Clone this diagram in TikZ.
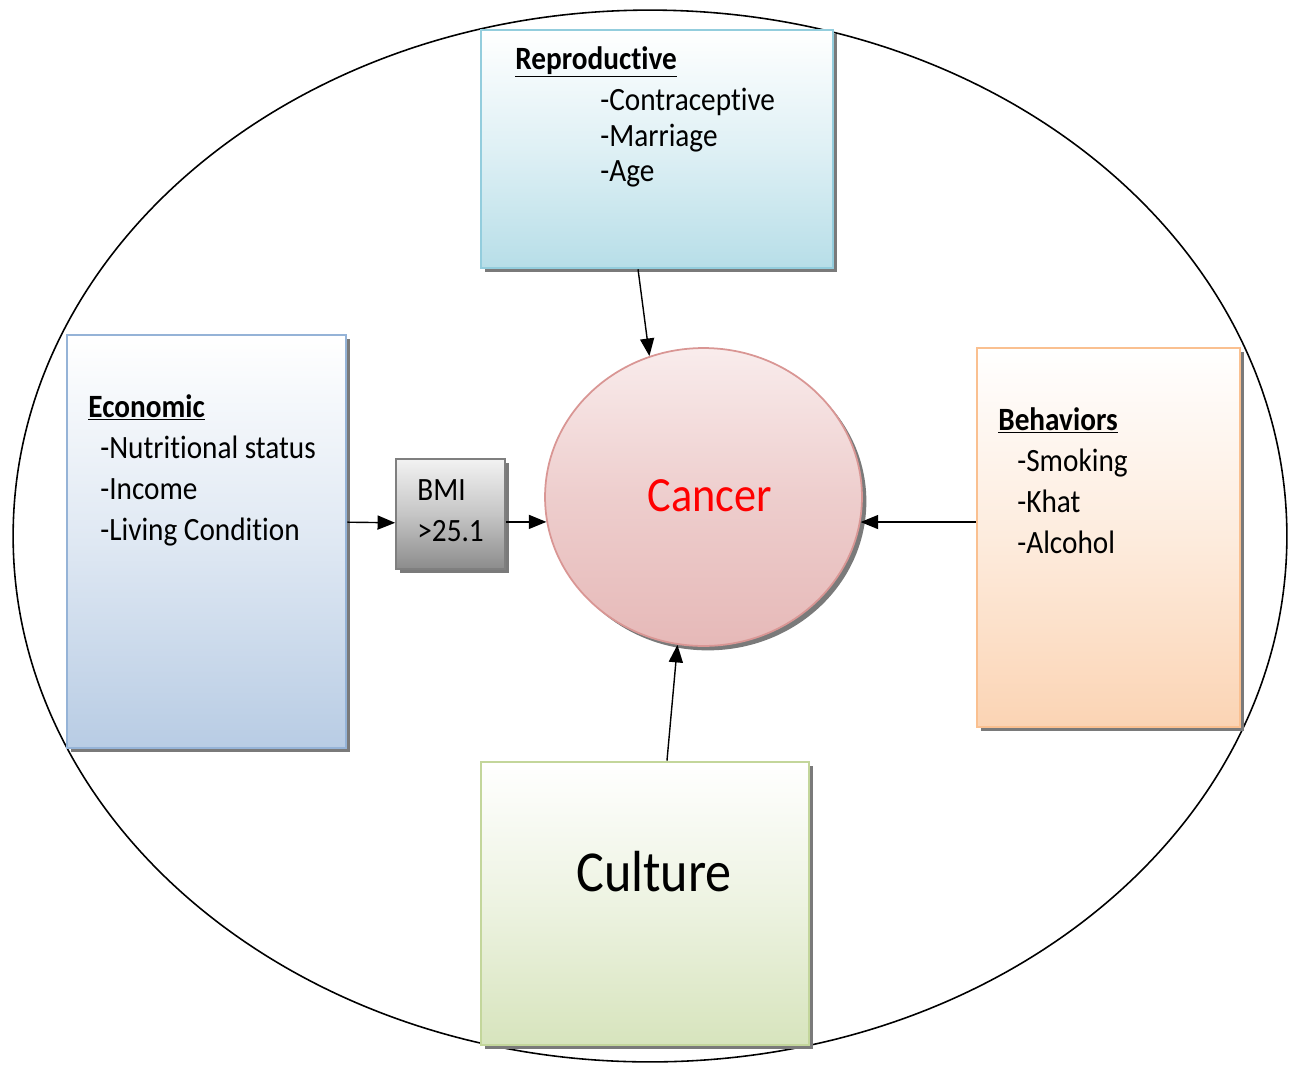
\documentclass[tikz,border=0pt]{standalone}
\usepackage{fontspec}
\setmainfont{Carlito}[FakeStretch=0.9, Ligatures={NoCommon}]
\usetikzlibrary{shapes.geometric,shadows,arrows.meta}
\newcommand\tI{t\kern0pt i}
\definecolor{repB}{HTML}{93CDDD}\definecolor{repF}{HTML}{B7DEE8}
\definecolor{ecoB}{HTML}{95B3D7}\definecolor{ecoF}{HTML}{B8CCE4}
\definecolor{behB}{HTML}{FAC090}\definecolor{behF}{HTML}{FBD4B4}
\definecolor{culB}{HTML}{C3D69B}\definecolor{culF}{HTML}{D7E4BD}
\definecolor{canB}{HTML}{D99694}\definecolor{canF}{HTML}{E6B9B8}\definecolor{canT}{HTML}{F9ECEC}
\definecolor{bmiB}{HTML}{7F7F7F}\definecolor{bmiF}{HTML}{8C8C8C}
\definecolor{shadowgray}{HTML}{7A7A7A}
\begin{document}
\begin{tikzpicture}[x=0.02cm,y=-0.02cm,
  box/.style={draw, line width=1.5pt, inner sep=0pt, shading=axis,
    drop shadow={shadow xshift=2.5pt, shadow yshift=-2.5pt, fill=shadowgray, opacity=1}},
  arr/.style={-{Triangle[length=10pt,width=8pt]}, line width=0.8pt},
  txt/.style={anchor=base west, inner sep=0pt, font=\fontsize{18.5}{22}\selectfont},
  head/.style={txt, font=\fontsize{18.5}{22}\selectfont\bfseries}]
\useasboundingbox (0,0) rectangle (1290,1065);
\node[draw, ellipse, line width=0.9pt, inner sep=0pt, minimum width=25.48cm, minimum height=21.04cm] (outer) at (650,536) {};
% boxes
\node[box, draw=repB, top color=white, bottom color=repF, middle color=repF!45!white,
  minimum width=7.04cm, minimum height=4.76cm] (rep) at (657,149) {};
\node[box, draw=ecoB, top color=white, bottom color=ecoF, middle color=ecoF!45!white,
  minimum width=5.58cm, minimum height=8.26cm] (eco) at (206.5,541.5) {};
\node[box, draw=behB, top color=white, bottom color=behF, middle color=behF!45!white,
  minimum width=5.26cm, minimum height=7.58cm] (beh) at (1108.5,537.5) {};
\node[box, draw=culB, top color=white, bottom color=culF, middle color=culF!45!white,
  minimum width=6.56cm, minimum height=5.66cm] (cul) at (645,903.5) {};
\node[box, draw=bmiB, line width=1pt, top color=gray!10, bottom color=bmiF, middle color=gray!45,
  minimum width=2.18cm, minimum height=2.2cm] (bmi) at (450.5,514) {};
\node[box, ellipse, draw=canB, line width=1pt, top color=canT, bottom color=canF, middle color=canF!60!canT,
  minimum width=6.34cm, minimum height=5.96cm] (can) at (703.5,497) {};
% texts
\node[head] (rh) at (515,69) {\underline{Reproductive}};
\node[txt] (r1) at (600,110) {-Contracep\tI ve};
\node[txt] (r2) at (600,146) {-Marriage};
\node[txt] (r3) at (600,181) {-Age};
\node[head] (eh) at (88,417) {\underline{Economic}};
\node[txt] (e1) at (100,458) {-Nutri\tI onal status};
\node[txt] (e2) at (100,499) {-Income};
\node[txt] (e3) at (100,540) {-Living Condi\tI on};
\node[head] (bh) at (998,430) {\underline{Behaviors}};
\node[txt] (b1) at (1017,471) {-Smoking};
\node[txt] (b2) at (1017,512) {-Khat};
\node[txt] (b3) at (1017,553) {-Alcohol};
\node[txt] (m1) at (417,500) {BMI};
\node[txt] (m2) at (417,541) {>25.1};
\node[inner sep=0pt, text=red, font=\fontsize{28}{30}\selectfont] (ct) at (710,496) {Cancer};
\node[inner sep=0pt, font=\fontsize{33}{36}\selectfont] (cu) at (654,872) {Culture};
% arrows
\draw[arr] ([xshift=-10.8pt]rep.south) -- (can.111);
\draw[arr] ([yshift=11pt]eco.east) -- ([yshift=-5pt]bmi.west);
\draw[arr] ([yshift=-4.5pt]bmi.east) -- ([yshift=-4.5pt]bmi.east -| can.189);
\draw[arr] ([yshift=8.8pt]beh.west) -- ([yshift=8.8pt]beh.west -| can.-9);
\draw[arr] ([xshift=12.5pt]cul.north) -- (can.260);
\end{tikzpicture}
\end{document}
